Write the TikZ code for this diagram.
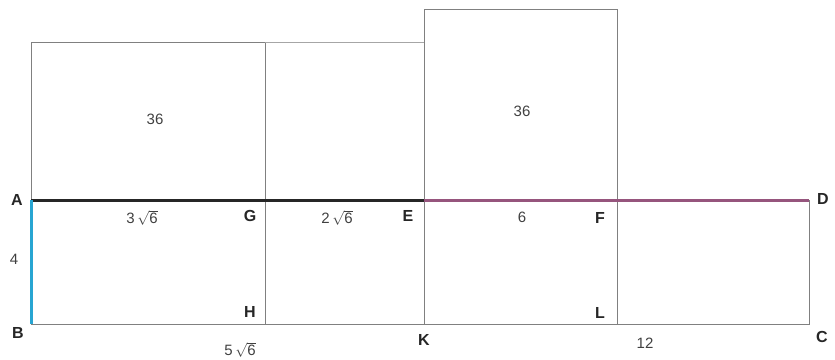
\documentclass[tikz,border=0pt]{standalone}
\usepackage{fontspec}
\setmainfont{Liberation Sans}
\begin{document}
\begin{tikzpicture}[x=1pt,y=-1pt,
  thin line/.style={draw=black!50,line width=0.9pt},
  pt label/.style={font=\fontsize{16}{18}\selectfont\bfseries,text=black!85,inner sep=0pt},
  num label/.style={font=\fontsize{15}{17}\selectfont,text=black!75,inner sep=0pt}]
\useasboundingbox (0,0) rectangle (835,359);
% points
\coordinate (A) at (31,200);
\coordinate (B) at (31,324);
\coordinate (G) at (265,200);
\coordinate (H) at (265,324);
\coordinate (E) at (424,200);
\coordinate (K) at (424,324);
\coordinate (F) at (617,200);
\coordinate (L) at (617,324);
\coordinate (D) at (809,200);
\coordinate (C) at (809,324);
\coordinate (P1) at (31,42);
\coordinate (P2) at (265,42);
\coordinate (P3) at (424,42);
\coordinate (P4) at (424,9);
\coordinate (P5) at (617,9);
% thin lines
\draw[thin line] (A) -- (P1) -- (P2) -- (G);
\draw[draw=black!35,line width=0.9pt] (P2) -- (P3);
\draw[thin line] (P3) -- (P4) -- (P5) -- (F);
\draw[thin line] (B) -- (C) -- (D);
\draw[thin line] (G) -- (H);
\draw[thin line] (P3) -- (K);
\draw[thin line] (F) -- (L);
% coloured lines
\draw[draw=black!85,line width=3pt] (A) -- (E);
\draw[draw={rgb,255:red,150;green,85;blue,125},line width=3pt] (E) -- (D);
\draw[draw={rgb,255:red,40;green,165;blue,210},line width=3pt] (A) -- (B);
% point labels
\node[pt label] (lA) at (17,200) {A};
\node[pt label] (lB) at (18,333) {B};
\node[pt label] (lG) at (250,216) {G};
\node[pt label] (lH) at (250,312) {H};
\node[pt label] (lE) at (408,216) {E};
\node[pt label] (lK) at (424,340) {K};
\node[pt label] (lF) at (600,218) {F};
\node[pt label] (lL) at (600,313) {L};
\node[pt label] (lD) at (823,199) {D};
\node[pt label] (lC) at (822,337) {C};
% number labels
\node[num label] (n4) at (14,259) {4};
\node[num label] (n36a) at (155,119) {36};
\node[num label] (n36b) at (522,111) {36};
\node[num label] (n3r6) at (142,218) {3\,$\sqrt{\mbox{6}}$};
\node[num label] (n2r6) at (337,218) {2\,$\sqrt{\mbox{6}}$};
\node[num label] (n6) at (522,217) {6};
\node[num label] (n5r6) at (240,350) {5\,$\sqrt{\mbox{6}}$};
\node[num label] (n12) at (645,343) {12};
\end{tikzpicture}
\end{document}
